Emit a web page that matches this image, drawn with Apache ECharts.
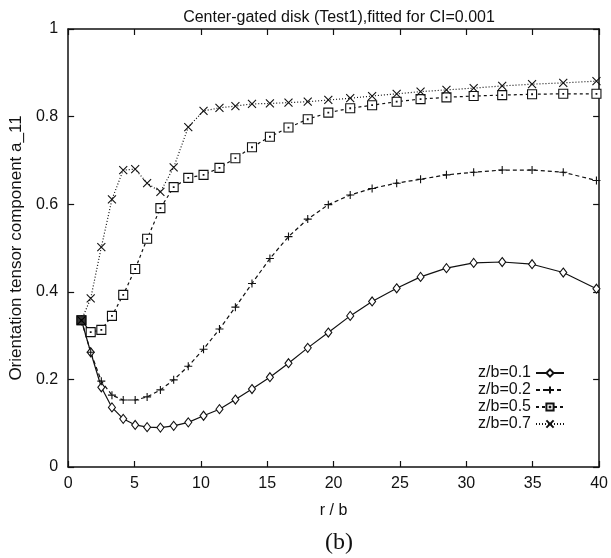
<!DOCTYPE html>
<html>
<head>
<meta charset="utf-8">
<script src="https://cdn.jsdelivr.net/npm/echarts@6/dist/echarts.min.js"></script>
<style>
  html, body { margin: 0; padding: 0; background: #fff; }
  #chart { width: 611px; height: 558px; }
</style>
</head>
<body>
<div id="chart"></div>
<script>
// Radial positions r/b shared by all four depth curves
const rb = [1, 1.7, 2.5, 3.3, 4.15, 5.05, 5.95, 6.95, 7.95, 9.05, 10.2, 11.4, 12.6, 13.85,
  15.2, 16.6, 18.05, 19.6, 21.25, 22.9, 24.75, 26.55, 28.5, 30.55, 32.7, 34.95, 37.3, 39.8];

// a_11 at z/b = 0.1, 0.2, 0.5, 0.7
const a11_z01 = [0.335, 0.262, 0.182, 0.136, 0.11, 0.096, 0.091, 0.09, 0.094, 0.102, 0.117, 0.132,
  0.154, 0.178, 0.205, 0.237, 0.272, 0.307, 0.345, 0.378, 0.408, 0.434, 0.454, 0.466, 0.468,
  0.463, 0.444, 0.407];
const a11_z02 = [0.335, 0.262, 0.196, 0.164, 0.153, 0.153, 0.16, 0.176, 0.199, 0.23, 0.269, 0.315,
  0.365, 0.419, 0.476, 0.526, 0.566, 0.599, 0.621, 0.636, 0.648, 0.657, 0.667, 0.673, 0.678,
  0.678, 0.673, 0.654];
const a11_z05 = [0.335, 0.308, 0.313, 0.345, 0.393, 0.452, 0.521, 0.591, 0.639, 0.66, 0.667, 0.683,
  0.705, 0.73, 0.754, 0.775, 0.794, 0.809, 0.819, 0.826, 0.834, 0.84, 0.844, 0.847, 0.849,
  0.851, 0.852, 0.852];
const a11_z07 = [0.335, 0.385, 0.502, 0.611, 0.678, 0.68, 0.648, 0.628, 0.684, 0.776, 0.813, 0.82,
  0.824, 0.829, 0.83, 0.832, 0.834, 0.838, 0.842, 0.847, 0.852, 0.857, 0.861, 0.865, 0.87,
  0.874, 0.877, 0.881];

// Gate inlet point
const gatePoint = [[1, 0.335]];

const seriesNames = ['z/b=0.1', 'z/b=0.2', 'z/b=0.5', 'z/b=0.7'];
const xTicks = { min: 0, max: 40, interval: 5 };
const yTicks = { min: 0, max: 1, interval: 0.2 };

const font = '"Liberation Sans", Arial, sans-serif';
const ink = '#111';

function pairs(ys) { return rb.map((x, i) => [x, ys[i]]); }

const PLUS = 'path://M5,0L5,10M0,5L10,5';
const CROSS = 'path://M0,0L10,10M10,0L0,10';
const SQUARE_DOT = 'path://M0,0L10,0L10,10L0,10Z M4.6,4.6L5.4,4.6L5.4,5.4L4.6,5.4Z';

function curve(name, ys, symbol, size, dash) {
  return {
    name: name,
    type: 'line',
    data: pairs(ys),
    symbol: symbol,
    symbolSize: size,
    showAllSymbol: true,
    z: 3,
    lineStyle: { color: ink, width: 1.2, type: dash },
    itemStyle: { color: '#fff', borderColor: ink, borderWidth: 1.1 },
    emphasis: { disabled: true },
    animation: false
  };
}

const axisCommon = {
  axisLine: { show: true, onZero: false, lineStyle: { color: ink, width: 1.5 } },
  axisTick: { show: true, inside: true, length: 6, lineStyle: { color: ink, width: 1.2 } },
  splitLine: { show: false }
};

const chart = echarts.init(document.getElementById('chart'), null, { renderer: 'canvas' });
chart.setOption({
  backgroundColor: '#fff',
  animation: false,
  title: [
    {
      text: 'Center-gated disk (Test1),fitted for CI=0.001',
      left: 334, top: 5, textAlign: 'center',
      textStyle: { fontFamily: font, fontSize: 16, fontWeight: 'normal', color: ink }
    },
    {
      text: '(b)',
      left: 334, top: 526, textAlign: 'center',
      textStyle: { fontFamily: '"Liberation Serif", "Times New Roman", serif', fontSize: 24, fontWeight: 'normal', color: ink }
    }
  ],
  grid: { left: 67, right: 9, top: 29, bottom: 91, show: false },
  legend: {
    data: seriesNames,
    orient: 'vertical',
    right: 41, top: 360,
    align: 'right',
    itemWidth: 28, itemHeight: 9, itemGap: 1,
    textStyle: { fontFamily: font, fontSize: 16, color: ink },
    inactiveColor: ink
  },
  xAxis: [
    Object.assign({
      type: 'value', position: 'bottom',
      min: xTicks.min, max: xTicks.max, interval: xTicks.interval,
      name: 'r / b', nameLocation: 'middle', nameGap: 36,
      nameTextStyle: { fontFamily: font, fontSize: 16, color: ink },
      axisLabel: { fontFamily: font, fontSize: 16, color: ink, margin: 9 }
    }, axisCommon),
    Object.assign({
      type: 'value', position: 'top',
      min: xTicks.min, max: xTicks.max, interval: xTicks.interval,
      axisLabel: { show: false }
    }, axisCommon)
  ],
  yAxis: [
    Object.assign({
      type: 'value', position: 'left',
      min: yTicks.min, max: yTicks.max, interval: yTicks.interval,
      name: 'Orientation tensor component a_11', nameLocation: 'middle', nameGap: 41,
      nameTextStyle: { fontFamily: font, fontSize: 17, color: ink },
      axisLabel: { fontFamily: font, fontSize: 16, color: ink, margin: 10 }
    }, axisCommon),
    Object.assign({
      type: 'value', position: 'right',
      min: yTicks.min, max: yTicks.max, interval: yTicks.interval,
      axisLabel: { show: false }
    }, axisCommon)
  ],
  series: [
    curve(seriesNames[0], a11_z01, 'diamond', [7, 9], 'solid'),
    curve(seriesNames[1], a11_z02, PLUS, 8, [4, 3]),
    curve(seriesNames[2], a11_z05, SQUARE_DOT, 9, [3, 3]),
    curve(seriesNames[3], a11_z07, CROSS, 8, [1, 2]),
    {
      name: 'gate',
      type: 'scatter',
      data: gatePoint,
      symbol: 'rect',
      symbolSize: 10,
      z: 5,
      itemStyle: { color: '#000' },
      emphasis: { disabled: true },
      animation: false
    }
  ]
});
</script>
</body>
</html>
